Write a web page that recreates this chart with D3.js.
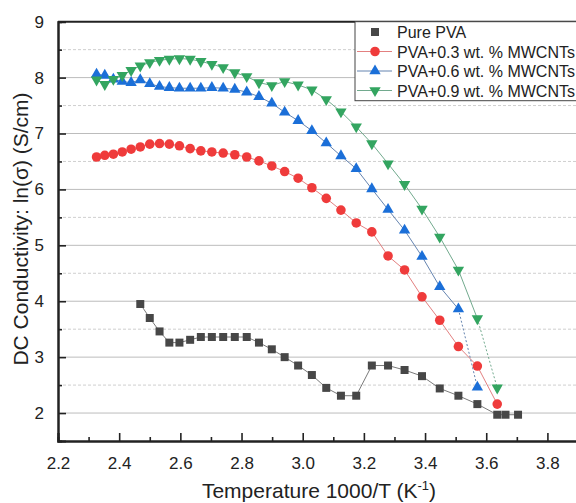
<!DOCTYPE html>
<html>
<head>
<meta charset="utf-8">
<script src="https://cdn.jsdelivr.net/npm/d3@7"></script>
<style>
  body { margin: 0; background: #fff; }
  text { font-family: "Liberation Sans", Arial, sans-serif; fill: #222; }
</style>
</head>
<body>
<script>
// 1000/T values
const xPva = [2.469, 2.500, 2.532, 2.564, 2.597, 2.632, 2.667, 2.703, 2.740, 2.778, 2.817,
  2.857, 2.899, 2.941, 2.985, 3.030, 3.077, 3.125, 3.175, 3.226, 3.279, 3.333, 3.390,
  3.448, 3.509, 3.571, 3.636, 3.663, 3.704];
const yPva = [3.95, 3.70, 3.46, 3.26, 3.26, 3.31, 3.36, 3.36, 3.36, 3.36, 3.36,
  3.26, 3.14, 3.00, 2.85, 2.68, 2.45, 2.31, 2.31, 2.85, 2.85, 2.77, 2.66,
  2.44, 2.31, 2.16, 1.97, 1.97, 1.97];

const xCnt = [2.326, 2.353, 2.381, 2.410, 2.439, 2.469, 2.500, 2.532, 2.564, 2.597, 2.632,
  2.667, 2.703, 2.740, 2.778, 2.817, 2.857, 2.899, 2.941, 2.985, 3.030, 3.077, 3.125,
  3.175, 3.226, 3.279, 3.333, 3.390, 3.448, 3.509, 3.571, 3.636];
const y03 = [6.58, 6.61, 6.63, 6.67, 6.72, 6.76, 6.81, 6.82, 6.81, 6.78, 6.73,
  6.69, 6.67, 6.65, 6.62, 6.58, 6.51, 6.42, 6.32, 6.20, 6.03, 5.84, 5.63,
  5.40, 5.24, 4.81, 4.56, 4.08, 3.66, 3.19, 2.84, 2.16];
const y06 = [8.06, 8.04, 7.97, 7.93, 7.91, 7.96, 7.89, 7.84, 7.82, 7.81, 7.81,
  7.81, 7.82, 7.81, 7.79, 7.74, 7.66, 7.54, 7.38, 7.23, 7.05, 6.83, 6.60,
  6.37, 6.01, 5.64, 5.27, 4.80, 4.26, 3.86, 2.46];
const y09 = [7.96, 7.88, 7.97, 8.04, 8.13, 8.21, 8.27, 8.31, 8.33, 8.34, 8.33,
  8.29, 8.24, 8.18, 8.09, 8.02, 7.91, 7.86, 7.93, 7.87, 7.78, 7.61, 7.39,
  7.12, 6.82, 6.46, 6.09, 5.65, 5.15, 4.56, 3.69, 2.45];

const labels = ["Pure PVA", "PVA+0.3 wt. % MWCNTs", "PVA+0.6 wt. % MWCNTs", "PVA+0.9 wt. % MWCNTs"];
const xTicks = [2.2, 2.4, 2.6, 2.8, 3.0, 3.2, 3.4, 3.6, 3.8];
const yTicks = [2, 3, 4, 5, 6, 7, 8, 9];

const series = [
  { name: labels[0], xs: xPva, ys: yPva, shape: d3.symbolSquare, size: 64, rot: 0,
    color: "#474747", line: "#7a7a7a", dashLast: false },
  { name: labels[1], xs: xCnt, ys: y03, shape: d3.symbolCircle, size: 72, rot: 0,
    color: "#ef3b3b", line: "#e38080", dashLast: false },
  { name: labels[2], xs: xCnt, ys: y06, shape: d3.symbolTriangle, size: 56, rot: 0,
    color: "#1b6fd8", line: "#6584b0", dashLast: true },
  { name: labels[3], xs: xCnt, ys: y09, shape: d3.symbolTriangle, size: 56, rot: 180,
    color: "#33a560", line: "#72aa8e", dashLast: true }
];

const W = 576, H = 503;
const padL = 58, padT = 21.7, padR = 578, padB = 441;

const x = d3.scaleLinear().domain([2.2, 3.9]).range([padL, padR]);
const y = d3.scaleLinear().domain([1.5, 9]).range([padB, padT]);

const svg = d3.select("body").append("svg")
  .attr("width", W)
  .attr("height", H);

// grid: solid at integers, dashed at halves
const halfTicks = d3.range(2.5, 9, 1);
svg.append("g").selectAll("line").data(halfTicks).join("line")
  .attr("x1", padL).attr("x2", W)
  .attr("y1", d => y(d)).attr("y2", d => y(d))
  .attr("stroke", "#cfcfcf").attr("stroke-width", 1).attr("stroke-dasharray", "3,2");
svg.append("g").selectAll("line").data(yTicks.slice(0, -1)).join("line")
  .attr("x1", padL).attr("x2", W)
  .attr("y1", d => y(d)).attr("y2", d => y(d))
  .attr("stroke", "#bcbcbc").attr("stroke-width", 1);

// axes with inward ticks
const xAxis = svg.append("g")
  .attr("transform", `translate(0,${padB})`)
  .call(d3.axisBottom(x).tickValues(xTicks).tickSize(-8).tickPadding(16)
    .tickFormat(d3.format(".1f")));
const xMinor = svg.append("g")
  .attr("transform", `translate(0,${padB})`)
  .call(d3.axisBottom(x).tickValues(d3.range(2.3, 3.95, 0.2)).tickSize(-4).tickFormat(""));
const yAxis = svg.append("g")
  .attr("transform", `translate(${padL},0)`)
  .call(d3.axisLeft(y).tickValues(yTicks).tickSize(-8).tickPadding(16));
const yMinor = svg.append("g")
  .attr("transform", `translate(${padL},0)`)
  .call(d3.axisLeft(y).tickValues(halfTicks).tickSize(-4).tickFormat(""));

[xAxis, xMinor, yAxis, yMinor].forEach(g => {
  g.select(".domain").attr("stroke", "#222").attr("stroke-width", 2);
  g.selectAll(".tick line").attr("stroke", "#222").attr("stroke-width", 1.6);
  g.selectAll(".tick text").attr("font-size", 17).attr("fill", "#222")
    .attr("font-family", '"Liberation Sans", Arial, sans-serif');
});
yAxis.selectAll(".tick text").attr("dx", 2);

// top frame line
svg.append("line")
  .attr("x1", padL).attr("x2", W)
  .attr("y1", padT).attr("y2", padT)
  .attr("stroke", "#222").attr("stroke-width", 2);

// series lines and markers
const lineGen = d3.line().x(d => x(d[0])).y(d => y(d[1]));
series.forEach(s => {
  const pts = s.xs.slice(0, s.ys.length).map((v, i) => [v, s.ys[i]]);
  const solid = s.dashLast ? pts.slice(0, -1) : pts;
  svg.append("path").datum(solid)
    .attr("fill", "none").attr("stroke", s.line).attr("stroke-width", 1)
    .attr("d", lineGen);
  if (s.dashLast) {
    svg.append("path").datum(pts.slice(-2))
      .attr("fill", "none").attr("stroke", s.line).attr("stroke-width", 1)
      .attr("stroke-dasharray", "2,2")
      .attr("d", lineGen);
  }
  svg.append("g").selectAll("path").data(pts).join("path")
    .attr("d", d3.symbol().type(s.shape).size(s.size))
    .attr("transform", d => `translate(${x(d[0])},${y(d[1])}) rotate(${s.rot})`)
    .attr("fill", s.color);
});

// legend
const lg = svg.append("g");
lg.append("rect")
  .attr("x", 355).attr("y", padT).attr("width", 240).attr("height", 79)
  .attr("fill", "#fff").attr("stroke", "#444").attr("stroke-width", 1);
series.forEach((s, i) => {
  const ry = 32 + i * 19.5;
  if (i > 0) {
    lg.append("line").attr("x1", 357).attr("x2", 392).attr("y1", ry).attr("y2", ry)
      .attr("stroke", s.line).attr("stroke-width", 1);
  }
  lg.append("path")
    .attr("d", d3.symbol().type(s.shape).size(s.size))
    .attr("transform", `translate(375,${ry}) rotate(${s.rot})`)
    .attr("fill", s.color);
  lg.append("text").attr("x", 397).attr("y", ry + 6)
    .attr("font-size", 16).text(s.name);
});

// axis titles
const xt = svg.append("text")
  .attr("x", 319).attr("y", 498)
  .attr("text-anchor", "middle").attr("font-size", 21)
  .text("Temperature 1000/T (K");
xt.append("tspan").attr("font-size", 13).attr("dy", -8).text("-1");
xt.append("tspan").attr("dy", 8).text(")");

svg.append("text")
  .attr("transform", "translate(28,229) rotate(-90)")
  .attr("text-anchor", "middle").attr("font-size", 21)
  .text("DC Conductivity: ln(σ) (S/cm)");
</script>
</body>
</html>
